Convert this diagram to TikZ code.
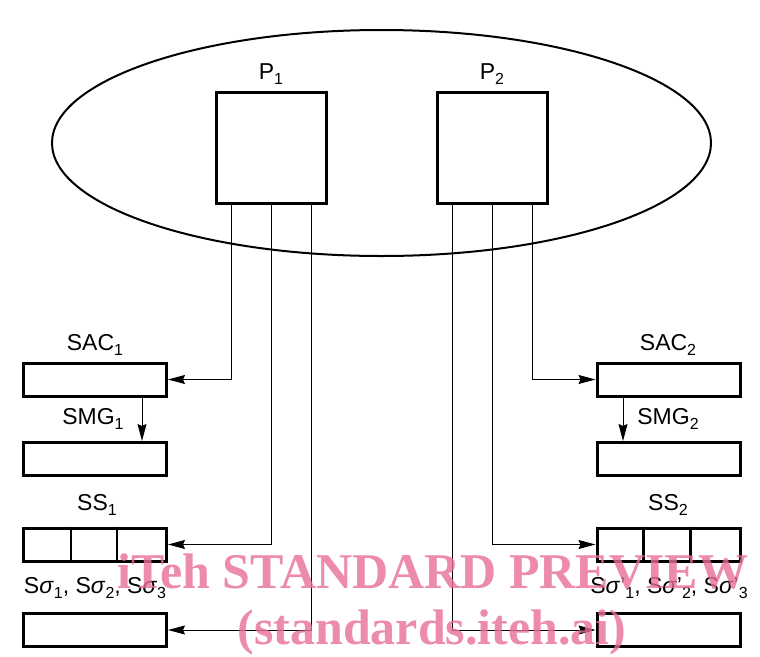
\documentclass[tikz,border=0pt]{standalone}
\usepackage{fontspec}
\setmainfont{Liberation Sans}
\newfontfamily\wmfont{Liberation Serif}
\usetikzlibrary{arrows.meta}
\definecolor{wmpink}{RGB}{232,110,150}
\newcommand\sbx[1]{\raisebox{-0.45ex}{\fontsize{16}{16}\selectfont #1}}
\begin{document}
\begin{tikzpicture}[x=1pt,y=-1pt,
  lbl/.style={font=\fontsize{23}{27}\selectfont, inner sep=0},
  rbox/.style={draw, line width=3pt, minimum width=143pt, minimum height=33pt, inner sep=0},
  pbox/.style={draw, line width=3pt, minimum width=110pt, minimum height=111pt, inner sep=0},
  conn/.style={line width=1pt},
  arr/.style={conn, -{Stealth[length=17pt,width=9pt,inset=2pt]}},
  wm/.style={font=\wmfont\bfseries\fontsize{50}{56}\selectfont, text=wmpink, opacity=0.8, inner sep=0}]
\useasboundingbox (0,0) rectangle (760,656);
\fill[white] (0,0) rectangle (760,656);
% ellipse
\draw[line width=2pt] (381.5,143) ellipse [x radius=329.5, y radius=113];
% P boxes
\node[pbox] (P1) at (271,147.5) {};
\node[pbox] (P2) at (492,147.5) {};
\node[lbl] (P1l) at (271,74) {P\sbx{1}};
\node[lbl] (P2l) at (492,74) {P\sbx{2}};
% left boxes
\node[rbox] (SAC1) at (95,379.5) {};
\node[rbox] (SMG1) at (95,459) {};
\node[rbox] (SS1) at (95,544.5) {};
\node[rbox] (SG1) at (95,630) {};
% right boxes
\node[rbox] (SAC2) at (668.5,379.5) {};
\node[rbox] (SMG2) at (668.5,459) {};
\node[rbox] (SS2) at (668.5,544.5) {};
\node[rbox] (SG2) at (668.5,630) {};
% dividers
\draw[line width=2.4pt] (SS1.north west) ++(49,0) -- ++(0,33);
\draw[line width=2.4pt] (SS1.north west) ++(95,0) -- ++(0,33);
\draw[line width=2.4pt] (SS2.north west) ++(48,0) -- ++(0,33);
\draw[line width=2.4pt] (SS2.north west) ++(95,0) -- ++(0,33);
% labels
\node[lbl] (SAC1l) at (95,345) {SAC\sbx{1}};
\node[lbl] (SMG1l) at (93,419) {SMG\sbx{1}};
\node[lbl] (SS1l) at (97,505) {SS\sbx{1}};
\node[lbl] (SG1l) at (95,588) {S\textit{σ}\sbx{1}, S\textit{σ}\sbx{2}, S\textit{σ}\sbx{3}};
\node[lbl] (SAC2l) at (668,345) {SAC\sbx{2}};
\node[lbl] (SMG2l) at (668,419) {SMG\sbx{2}};
\node[lbl] (SS2l) at (668,505) {SS\sbx{2}};
\node[lbl] (SG2l) at (669,588) {S\textit{σ}'\sbx{1}, S\textit{σ}'\sbx{2}, S\textit{σ}'\sbx{3}};
% connectors
\coordinate (a1) at (231,203);
\coordinate (a2) at (271,203);
\coordinate (a3) at (311,203);
\coordinate (b1) at (452,203);
\coordinate (b2) at (492,203);
\coordinate (b3) at (532,203);
\draw[arr] (a1) |- (SAC1.east);
\draw[arr] (a2) |- (SS1.east);
\draw[arr] (a3) |- (SG1.east);
\draw[arr] (b3) |- (SAC2.west);
\draw[arr] (b2) |- (SS2.west);
\draw[arr] (b1) |- (SG2.west);
\coordinate (m1) at (142,396);
\coordinate (m2) at (623,396);
\draw[arr] (m1) -- (m1 |- SMG1.north);
\draw[arr] (m2) -- (m2 |- SMG2.north);
% watermark
\node[wm] (wm1) at (433,572) {iTeh STANDARD PREVIEW};
\node[wm] (wm2) at (432,632) {(standards.iteh.ai)};
\end{tikzpicture}
\end{document}
